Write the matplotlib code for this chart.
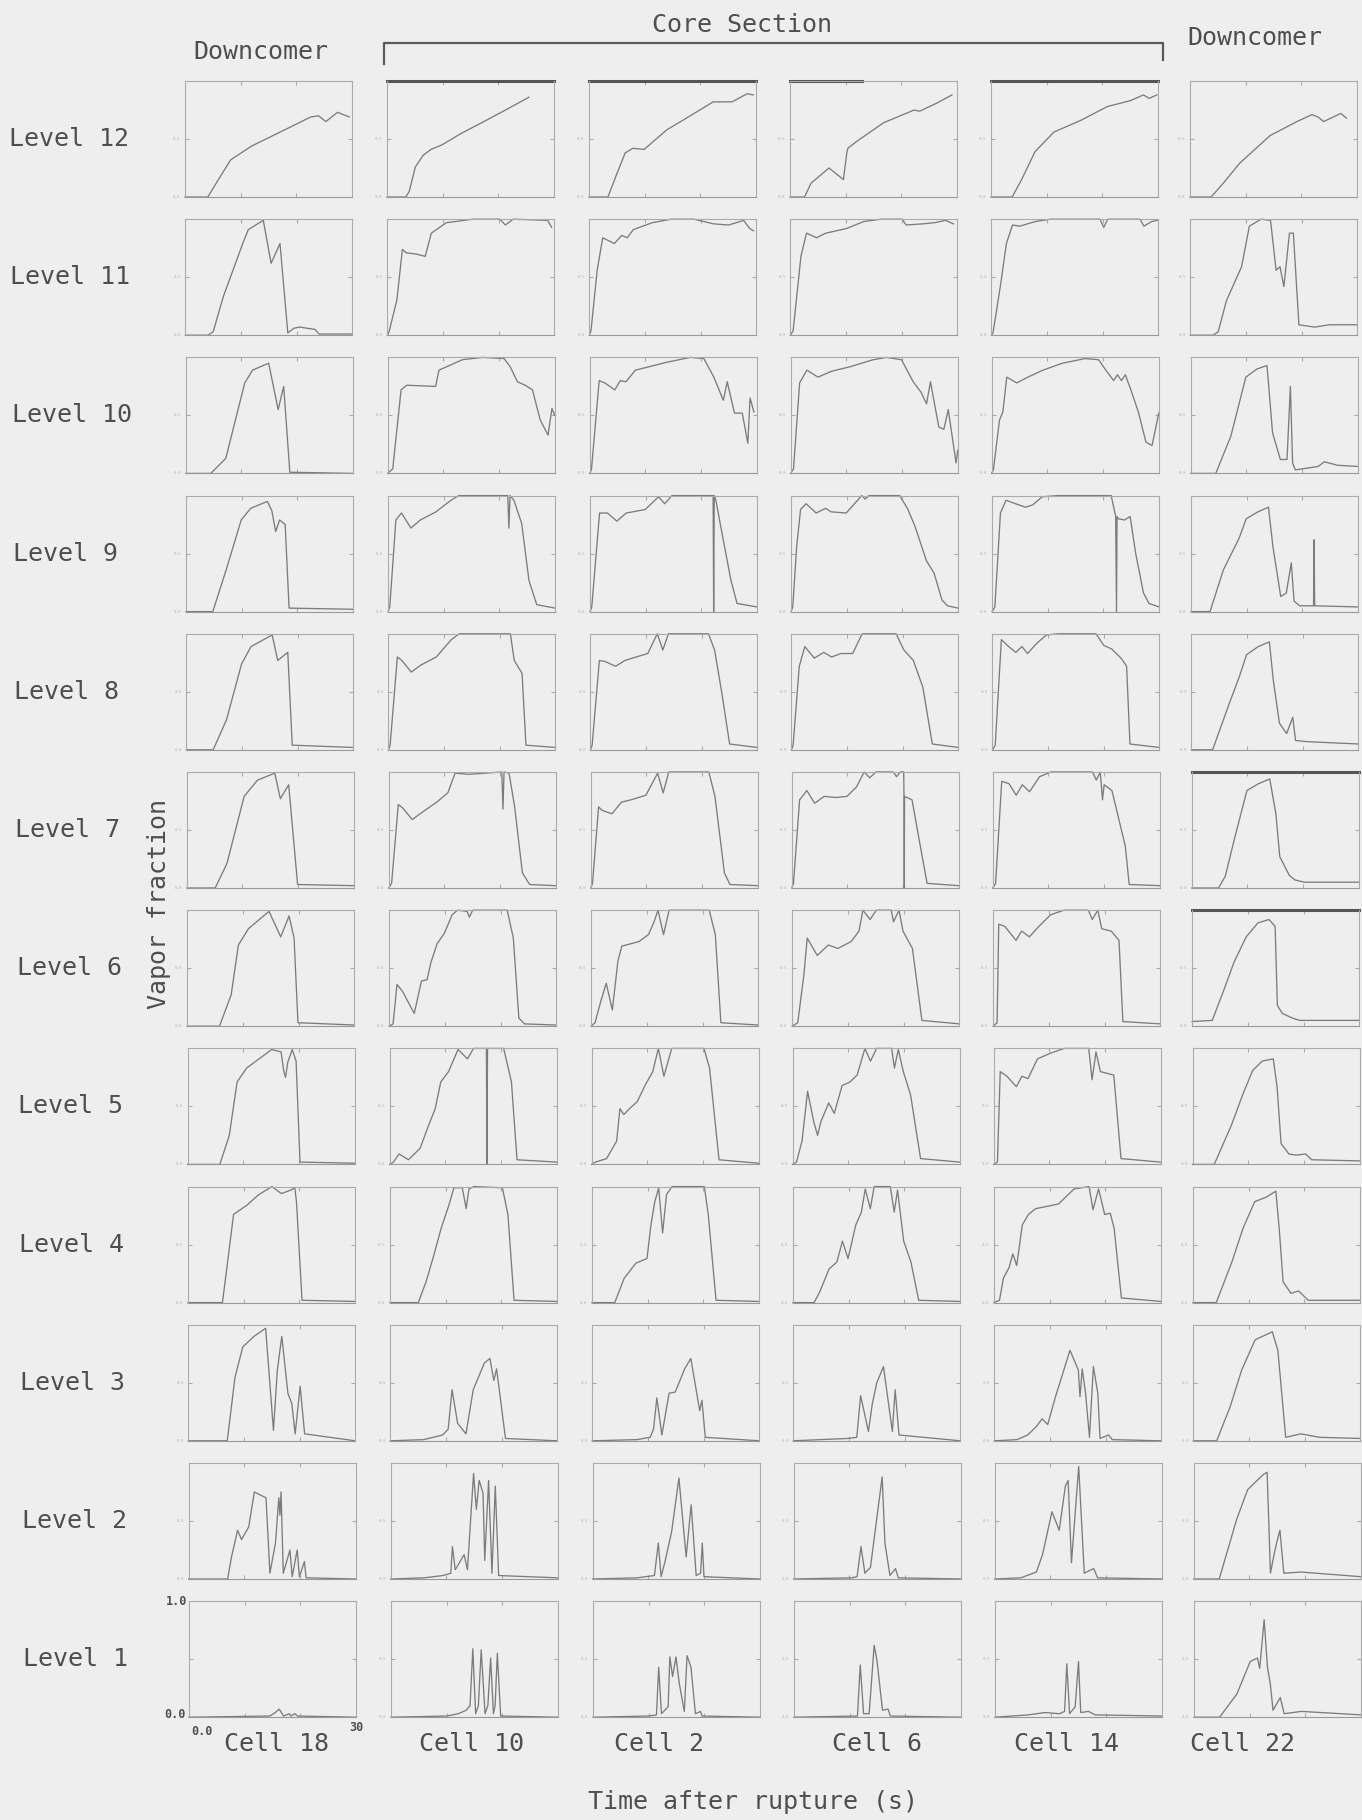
import matplotlib
matplotlib.use("Agg")
import matplotlib.pyplot as plt

# ---------------- data ----------------
LEVELS = [12, 11, 10, 9, 8, 7, 6, 5, 4, 3, 2, 1]
CELL_LABELS = ["Cell 18", "Cell 10", "Cell 2", "Cell 6", "Cell 14", "Cell 22"]
TIME_TICKS = [0, 10, 20, 30]
VF_TICKS = [0.0, 0.5, 1.0]

CELL18 = {
    12: ([0, 4.1, 6, 8.2, 12, 17.1, 22.6, 24, 25.3, 27.4, 29.5],
         [0, 0, 0.15, 0.32, 0.44, 0.56, 0.69, 0.70, 0.65, 0.73, 0.69]),
    11: ([0, 4.1, 5, 6.8, 10.3, 11.3, 14, 15.4, 17, 18.4, 19.5, 20.5, 23.3, 24, 30],
         [0, 0, 0.03, 0.33, 0.79, 0.91, 0.99, 0.62, 0.79, 0.02, 0.06, 0.07, 0.05, 0.01, 0.01]),
    10: ([0, 4.5, 7.2, 10.6, 12, 14.9, 16.6, 17.6, 18.7, 30],
         [0, 0, 0.13, 0.78, 0.89, 0.95, 0.55, 0.75, 0.01, 0]),
    9: ([0, 4.8, 7.2, 9.9, 11.6, 14.6, 15.4, 16.1, 16.8, 17.8, 18.5, 30],
        [0, 0, 0.36, 0.79, 0.89, 0.95, 0.87, 0.69, 0.79, 0.75, 0.03, 0.02]),
    8: ([0, 4.8, 7.2, 9.9, 11.6, 15.4, 16.4, 18.2, 19, 30],
        [0, 0, 0.26, 0.74, 0.89, 0.99, 0.77, 0.84, 0.04, 0.02]),
    7: ([0, 5.1, 7.2, 10.3, 12.7, 15.8, 16.8, 18.3, 19.9, 30],
        [0, 0, 0.21, 0.79, 0.93, 0.99, 0.77, 0.89, 0.03, 0.02]),
    6: ([0, 5.8, 7.9, 9.2, 11, 14.7, 16.8, 18.3, 19.2, 19.9, 30],
        [0, 0, 0.27, 0.7, 0.84, 0.99, 0.77, 0.95, 0.76, 0.03, 0.01]),
    5: ([0, 5.8, 7.5, 8.9, 10.6, 15.1, 16.8, 17.3, 17.6, 18, 18.8, 19.5, 20.2, 30],
        [0, 0, 0.25, 0.71, 0.83, 0.99, 0.97, 0.8, 0.75, 0.88, 0.99, 0.89, 0.02, 0.01]),
    4: ([0, 6.2, 7, 8.2, 10.6, 12.7, 15.1, 16.8, 18.5, 19.2, 19.5, 20.5, 30],
        [0, 0, 0.3, 0.76, 0.84, 0.93, 1.0, 0.94, 0.97, 0.99, 0.87, 0.02, 0.01]),
    3: ([0, 7, 8.4, 9.8, 11.8, 13.9, 15.3, 16, 16.8, 17.9, 18.6, 19.2, 20.1, 20.9, 30],
        [0, 0, 0.55, 0.81, 0.9, 0.97, 0.09, 0.61, 0.9, 0.41, 0.32, 0.06, 0.47, 0.06, 0]),
    2: ([0, 7, 7.7, 8.8, 9.5, 10.8, 11.8, 13.9, 14.6, 15.6, 16.2, 16.4, 16.6, 17, 18.2, 18.6, 19.5, 19.9, 20.8, 21.1, 30],
        [0, 0, 0.19, 0.42, 0.34, 0.45, 0.75, 0.7, 0.05, 0.31, 0.7, 0.55, 0.75, 0.05, 0.25, 0.02, 0.25, 0.02, 0.15, 0.01, 0]),
    1: ([0, 14.5, 15.5, 16.2, 17, 18, 18.3, 19, 19.5, 30],
        [0, 0.01, 0.04, 0.07, 0.01, 0.03, 0.01, 0.03, 0.01, 0]),
}

CELL10 = {
    12: ([0, 3.4, 4, 5.1, 6.5, 7.9, 9.9, 13.4, 17, 20.9, 25.5],
         [0, 0, 0.05, 0.26, 0.36, 0.41, 0.45, 0.55, 0.64, 0.74, 0.86]),
    11: ([0, 0.3, 1.7, 2.7, 3.4, 5.1, 6.8, 7.9, 10.6, 15.4, 20.2, 21.2, 22.6, 28.8, 29.5],
         [0, 0.03, 0.3, 0.74, 0.71, 0.7, 0.68, 0.88, 0.97, 1.0, 1.0, 0.95, 1.0, 0.99, 0.93]),
    10: ([0, 0.9, 2.4, 3.4, 8.6, 9.2, 13.4, 17, 20.9, 22, 23.3, 24.7, 26, 27.4, 28.8, 29.5, 30],
         [0, 0.04, 0.72, 0.76, 0.75, 0.89, 0.98, 1.0, 0.99, 0.92, 0.79, 0.76, 0.72, 0.46, 0.33, 0.56, 0.5]),
    9: ([0, 0.3, 1.4, 2.4, 4.1, 5.8, 8.6, 11.3, 12.7, 21.5, 21.7, 21.9, 22.6, 24, 25.3, 26.7, 30],
        [0, 0.04, 0.79, 0.85, 0.72, 0.79, 0.86, 0.96, 1.0, 1.0, 0.72, 1.0, 0.96, 0.76, 0.27, 0.06, 0.03]),
    8: ([0, 0.3, 1.6, 2.4, 4.1, 5.8, 8.6, 11.3, 12.7, 21.9, 22.6, 24, 24.7, 30],
        [0, 0.04, 0.8, 0.77, 0.67, 0.73, 0.8, 0.95, 1.0, 1.0, 0.77, 0.66, 0.04, 0.02]),
    7: ([0, 0.5, 1.7, 2.5, 4.2, 6.2, 8.6, 10.6, 11.9, 14.4, 20.3, 20.5, 20.7, 21.6, 22.6, 24, 25.3, 30],
        [0, 0.04, 0.72, 0.69, 0.59, 0.66, 0.74, 0.82, 0.99, 0.98, 1.0, 0.68, 1.0, 0.99, 0.7, 0.13, 0.03, 0.02]),
    6: ([0, 0.7, 1.4, 2.4, 4.5, 5.8, 6.8, 7.5, 8.6, 9.9, 11.3, 12.3, 14, 14.4, 15, 21.2, 22.3, 23.3, 24.3, 30],
        [0, 0.02, 0.36, 0.3, 0.11, 0.39, 0.4, 0.55, 0.71, 0.8, 0.96, 1.0, 0.99, 0.94, 1.0, 1.0, 0.76, 0.07, 0.02, 0.01]),
    5: ([0, 0.7, 1.7, 3.4, 5.5, 6.8, 8.2, 9.2, 10.6, 12.3, 14, 15.1, 17.4, 17.5, 17.6, 20.5, 21.9, 22.9, 30],
        [0, 0.02, 0.09, 0.04, 0.14, 0.31, 0.48, 0.71, 0.8, 0.99, 0.91, 1.0, 1.0, 0.0, 1.0, 1.0, 0.71, 0.04, 0.02]),
    4: ([0, 5.1, 6.5, 7.9, 9.2, 10.6, 11.5, 13, 13.7, 14.2, 15.1, 20.2, 21.2, 22.3, 30],
        [0, 0, 0.18, 0.41, 0.64, 0.84, 0.99, 0.99, 0.81, 0.98, 1.0, 0.99, 0.76, 0.02, 0.01]),
    3: ([0, 6, 9.4, 10.4, 11.1, 12.1, 13.6, 14.9, 16.9, 17.9, 18.6, 19.1, 20.7, 30],
        [0, 0.01, 0.05, 0.1, 0.44, 0.15, 0.06, 0.44, 0.67, 0.71, 0.52, 0.62, 0.02, 0]),
    2: ([0, 6, 9.4, 10.8, 11.1, 11.6, 13.2, 13.8, 14.9, 15.4, 15.9, 16.6, 16.9, 17.6, 18.2, 18.8, 19.4, 30],
        [0, 0.01, 0.03, 0.05, 0.28, 0.08, 0.21, 0.08, 0.91, 0.6, 0.85, 0.74, 0.16, 0.85, 0.05, 0.8, 0.03, 0.01]),
    1: ([0, 10, 12.1, 13.5, 14.2, 14.7, 15.2, 15.7, 16.2, 16.9, 17.4, 17.9, 18.4, 18.7, 19.1, 19.7, 30],
        [0, 0.01, 0.03, 0.06, 0.1, 0.59, 0.03, 0.1, 0.58, 0.03, 0.1, 0.51, 0.03, 0.1, 0.55, 0.01, 0]),
}

CELL2 = {
    12: ([0, 3.4, 5, 6.5, 7.9, 9.9, 14, 17.5, 22.3, 25.7, 28.4, 29.5],
         [0, 0, 0.2, 0.38, 0.42, 0.41, 0.58, 0.68, 0.82, 0.82, 0.89, 0.88]),
    11: ([0, 0.3, 1.4, 2.4, 4.5, 5.8, 6.8, 7.9, 11.3, 14.7, 18.8, 22.3, 25, 26.4, 27.7, 28.8, 29.5],
         [0, 0.04, 0.56, 0.84, 0.79, 0.86, 0.84, 0.91, 0.97, 1.0, 1.0, 0.96, 0.95, 0.97, 0.99, 0.92, 0.9]),
    10: ([0, 0.3, 1.7, 2.7, 4.5, 5.5, 6.5, 8.2, 14, 18.1, 20.5, 22.3, 24, 24.7, 26, 27.4, 28.4, 28.8, 29.5],
         [0, 0.03, 0.8, 0.78, 0.72, 0.8, 0.79, 0.89, 0.96, 1.0, 0.99, 0.83, 0.63, 0.79, 0.52, 0.52, 0.26, 0.65, 0.53]),
    9: ([0, 0.3, 1.7, 3.1, 4.8, 6.5, 9.9, 12.3, 13.4, 14.7, 22.1, 22.2, 22.3, 22.6, 23.6, 25.3, 26.4, 30],
        [0, 0.04, 0.85, 0.85, 0.78, 0.85, 0.88, 0.99, 0.93, 1.0, 1.0, 0.0, 1.0, 0.96, 0.7, 0.27, 0.07, 0.04]),
    8: ([0, 0.3, 1.6, 2.7, 4.5, 6.2, 8.2, 10.3, 12, 13, 14, 21.2, 22.3, 23.6, 25, 30],
        [0, 0.04, 0.77, 0.76, 0.72, 0.77, 0.8, 0.83, 1.0, 0.86, 1.0, 1.0, 0.86, 0.49, 0.05, 0.02]),
    7: ([0, 0.3, 1.4, 2, 3.8, 5.5, 7.2, 9.9, 12, 13, 14, 21.2, 22.3, 24, 25, 30],
        [0, 0.04, 0.7, 0.67, 0.64, 0.74, 0.76, 0.8, 0.99, 0.82, 1.0, 1.0, 0.79, 0.13, 0.03, 0.02]),
    6: ([0, 0.7, 1.7, 2.7, 3.8, 4.8, 5.5, 8.6, 10.3, 11.3, 12, 13, 14, 21.2, 22.3, 23.3, 30],
        [0, 0.03, 0.21, 0.37, 0.14, 0.56, 0.69, 0.73, 0.79, 0.9, 1.0, 0.79, 1.0, 1.0, 0.79, 0.03, 0.01]),
    5: ([0, 0.7, 2.7, 4.5, 5.1, 5.8, 6.8, 8.2, 9.6, 11, 12, 13, 14.4, 20.2, 21.2, 22.9, 30],
        [0, 0.02, 0.05, 0.2, 0.48, 0.43, 0.48, 0.54, 0.68, 0.8, 1.0, 0.76, 1.0, 1.0, 0.83, 0.04, 0.01]),
    4: ([0, 4.1, 5.8, 7.9, 9.9, 10.6, 11.3, 12, 12.7, 13.4, 14.4, 20.2, 20.9, 22.3, 30],
        [0, 0, 0.21, 0.34, 0.38, 0.67, 0.87, 0.99, 0.6, 0.93, 1.0, 1.0, 0.76, 0.02, 0.01]),
    3: ([0, 8, 10.4, 11, 11.6, 12.5, 13.8, 14.9, 16.6, 17.7, 19.3, 19.7, 20.3, 30],
        [0, 0.01, 0.03, 0.1, 0.37, 0.05, 0.41, 0.42, 0.62, 0.71, 0.26, 0.35, 0.03, 0]),
    2: ([0, 8, 11.1, 11.8, 12.3, 13, 14.2, 15.5, 16.8, 17.7, 18.6, 19.4, 19.7, 20, 30],
        [0, 0.01, 0.03, 0.31, 0.02, 0.15, 0.41, 0.87, 0.19, 0.64, 0.03, 0.05, 0.31, 0.02, 0]),
    1: ([0, 10, 11.4, 11.8, 12.3, 13.5, 13.8, 14.3, 14.9, 15.5, 16.4, 16.9, 17.6, 18.4, 19.3, 19.6, 30],
        [0, 0.01, 0.02, 0.43, 0.03, 0.09, 0.52, 0.35, 0.52, 0.29, 0.05, 0.53, 0.43, 0.03, 0.05, 0.01, 0]),
}

CELL6 = {
    12: ([0, 2.6, 3.8, 7, 9.6, 10.2, 10.4, 12, 16.8, 22.3, 23.3, 26.4, 29.1],
         [0, 0, 0.12, 0.25, 0.15, 0.38, 0.42, 0.48, 0.64, 0.75, 0.74, 0.81, 0.88]),
    11: ([0, 0.5, 1.9, 2.9, 4.7, 6.4, 10.1, 13.2, 16.3, 20.1, 20.8, 23.8, 25.9, 27.9, 29.3],
         [0, 0.04, 0.68, 0.88, 0.84, 0.88, 0.92, 0.98, 1.0, 1.0, 0.95, 0.96, 0.97, 0.99, 0.96]),
    10: ([0, 0.5, 1.6, 2.9, 4.9, 7.3, 10.7, 14.8, 17.2, 19.9, 22, 23.4, 24.4, 25.1, 26.6, 27.5, 28.3, 29.7, 30],
         [0, 0.04, 0.78, 0.89, 0.83, 0.88, 0.92, 0.98, 1.0, 0.98, 0.79, 0.7, 0.6, 0.79, 0.4, 0.38, 0.55, 0.09, 0.2]),
    9: ([0, 0.3, 1, 1.7, 2.7, 4.5, 6.2, 7.2, 9.9, 12.7, 13.3, 14, 19.5, 20.9, 22.3, 24.3, 25.7, 27.1, 28.1, 30],
        [0, 0.04, 0.56, 0.88, 0.93, 0.85, 0.89, 0.86, 0.85, 1.0, 0.97, 1.0, 1.0, 0.89, 0.73, 0.44, 0.33, 0.1, 0.05, 0.03]),
    8: ([0, 0.3, 1.4, 2.4, 4.1, 5.8, 7.2, 8.9, 11, 12.7, 18.8, 20.2, 21.9, 23.6, 25.3, 30],
        [0, 0.04, 0.72, 0.89, 0.79, 0.84, 0.8, 0.83, 0.83, 1.0, 1.0, 0.86, 0.77, 0.54, 0.05, 0.02]),
    7: ([0, 0.3, 1.4, 2.7, 4.1, 5.8, 7.9, 9.9, 11.6, 13, 14, 15.1, 18.2, 18.8, 19.5, 20.1, 20.15, 20.2, 20.25, 21.6, 22.9, 24.3, 30],
        [0, 0.04, 0.76, 0.84, 0.73, 0.79, 0.78, 0.79, 0.87, 1.0, 0.95, 1.0, 1.0, 0.96, 1.0, 1.0, 0.79, 0.0, 0.79, 0.76, 0.41, 0.04, 0.02]),
    6: ([0, 1, 2.1, 2.7, 4.5, 6.5, 8.2, 10.6, 12, 12.7, 14, 15.1, 17.8, 18.2, 19.2, 19.9, 21.6, 23.3, 30],
        [0, 0.03, 0.44, 0.76, 0.61, 0.7, 0.67, 0.73, 0.82, 1.0, 0.92, 1.0, 1.0, 0.9, 1.0, 0.82, 0.67, 0.05, 0.02]),
    5: ([0, 0.7, 1.7, 2.7, 3.8, 4.5, 5.1, 6.5, 7.5, 8.9, 10.3, 11.6, 13, 14, 15.1, 17.8, 18.3, 19, 19.9, 21.2, 23, 30],
        [0, 0.02, 0.2, 0.63, 0.37, 0.25, 0.37, 0.53, 0.44, 0.68, 0.71, 0.77, 1.0, 0.89, 1.0, 1.0, 0.83, 0.99, 0.8, 0.6, 0.05, 0.02]),
    4: ([0, 3.8, 4.8, 6.5, 7.9, 8.9, 9.9, 11.3, 12.3, 13, 13.9, 14.6, 17.5, 18.2, 18.8, 19.9, 21.2, 22.6, 30],
        [0, 0, 0.09, 0.29, 0.35, 0.53, 0.38, 0.67, 0.78, 0.98, 0.81, 1.0, 1.0, 0.78, 0.97, 0.53, 0.35, 0.02, 0.01]),
    3: ([0, 9.7, 11.4, 12.1, 13.5, 14.2, 15, 16.2, 17.8, 18.3, 19, 30],
        [0, 0.02, 0.03, 0.39, 0.08, 0.32, 0.5, 0.64, 0.08, 0.44, 0.05, 0]),
    2: ([0, 10.4, 11.4, 12.1, 12.8, 13.8, 14.5, 15.9, 16.4, 17.3, 18.3, 18.8, 30],
        [0, 0.01, 0.02, 0.28, 0.05, 0.1, 0.36, 0.88, 0.31, 0.03, 0.09, 0.01, 0]),
    1: ([0, 11.4, 11.9, 12.5, 13.5, 14.4, 14.9, 15.9, 16.9, 17.3, 30],
        [0, 0.01, 0.45, 0.03, 0.03, 0.62, 0.49, 0.06, 0.07, 0.01, 0]),
}

CELL14 = {
    12: ([0, 3.8, 5.5, 7.9, 11.3, 16.1, 20.9, 25, 27.4, 28.4, 29.8],
         [0, 0, 0.15, 0.39, 0.56, 0.66, 0.78, 0.83, 0.88, 0.85, 0.88]),
    11: ([0, 0.3, 1.7, 2.7, 3.8, 5.1, 7.9, 10.6, 19.5, 20.2, 20.9, 26.7, 27.4, 28.8, 29.8],
         [0, 0.02, 0.45, 0.79, 0.95, 0.94, 0.98, 1.0, 1.0, 0.93, 1.0, 1.0, 0.94, 0.98, 0.99]),
    10: ([0, 0.3, 1.4, 2, 2.7, 4.5, 6.5, 9.2, 12.7, 16.8, 19.2, 20.5, 21.9, 22.6, 23.3, 24, 25, 26.4, 27.7, 28.8, 29.5, 30],
         [0, 0.03, 0.46, 0.53, 0.83, 0.78, 0.83, 0.89, 0.95, 0.99, 0.98, 0.89, 0.8, 0.85, 0.8, 0.85, 0.72, 0.52, 0.27, 0.24, 0.4, 0.52]),
    9: ([0, 0.5, 1.5, 2.5, 4.2, 6, 7.3, 9, 11.8, 21.4, 22.2, 22.35, 22.45, 22.7, 23.8, 24.8, 25.8, 27.2, 28.2, 30],
        [0, 0.04, 0.85, 0.96, 0.93, 0.9, 0.92, 0.99, 1.0, 1.0, 0.82, 0.0, 0.82, 0.8, 0.79, 0.82, 0.5, 0.16, 0.07, 0.04]),
    8: ([0, 0.5, 1.6, 2.9, 4.2, 5.3, 6.3, 8, 9.7, 11.8, 18.6, 20, 21.4, 23.1, 24.1, 24.7, 30],
        [0, 0.04, 0.95, 0.89, 0.84, 0.89, 0.83, 0.92, 0.99, 1.0, 1.0, 0.9, 0.87, 0.79, 0.72, 0.05, 0.02]),
    7: ([0, 0.5, 1.6, 2.9, 4.2, 5.3, 6.6, 8.4, 10.4, 17.9, 18.6, 19.3, 19.7, 20, 21.4, 22.4, 23.8, 24.5, 30],
        [0, 0.04, 0.92, 0.9, 0.8, 0.89, 0.83, 0.96, 1.0, 1.0, 0.93, 1.0, 0.76, 0.89, 0.84, 0.64, 0.36, 0.03, 0.02]),
    6: ([0, 0.7, 1, 2.1, 4.1, 5.1, 6.5, 8.2, 10.3, 12.7, 17.1, 17.8, 18.8, 19.5, 21.2, 22.6, 23.3, 30],
        [0, 0.03, 0.88, 0.86, 0.74, 0.82, 0.77, 0.86, 0.96, 1.0, 1.0, 0.92, 1.0, 0.84, 0.82, 0.74, 0.04, 0.02]),
    5: ([0, 0.7, 1.2, 2.4, 4.1, 5.1, 6.2, 7.9, 10.3, 12.7, 17.1, 17.7, 18.4, 19.2, 21.6, 22.9, 30],
        [0, 0.02, 0.8, 0.76, 0.67, 0.76, 0.74, 0.91, 0.96, 1.0, 1.0, 0.73, 0.97, 0.8, 0.77, 0.05, 0.02]),
    4: ([0, 1, 1.7, 2.7, 3.4, 4.1, 5.1, 6.2, 7.5, 9.6, 11.6, 14.4, 17.1, 17.8, 18.8, 19.9, 20.9, 21.6, 22.9, 30],
        [0, 0.02, 0.21, 0.3, 0.42, 0.32, 0.67, 0.76, 0.81, 0.83, 0.85, 0.98, 1.0, 0.8, 0.98, 0.76, 0.77, 0.64, 0.04, 0.01]),
    3: ([0, 4.1, 6, 7.5, 8.6, 9.6, 11, 13.6, 15.1, 15.4, 15.8, 16.4, 17.1, 17.8, 18.6, 19, 20.5, 21.2, 30],
        [0, 0.01, 0.05, 0.12, 0.19, 0.14, 0.38, 0.78, 0.61, 0.38, 0.62, 0.41, 0.03, 0.64, 0.41, 0.02, 0.05, 0.01, 0]),
    2: ([0, 4.7, 7.5, 8.6, 10.3, 11.6, 12.7, 13.2, 13.8, 15.1, 16.1, 17.8, 18.5, 30],
        [0, 0.01, 0.06, 0.21, 0.58, 0.42, 0.8, 0.85, 0.14, 0.97, 0.05, 0.09, 0.01, 0]),
    1: ([0, 6, 9, 11.6, 12.5, 12.9, 13.4, 14.4, 15, 15.4, 16.8, 18, 30],
        [0, 0.02, 0.04, 0.03, 0.05, 0.46, 0.03, 0.09, 0.48, 0.04, 0.05, 0.02, 0.01]),
}

CELL22 = {
    12: ([0, 3.8, 6, 8.9, 14.4, 19.2, 21.9, 23, 24, 25.3, 27.1, 28.1],
         [0, 0, 0.12, 0.29, 0.53, 0.65, 0.71, 0.69, 0.65, 0.68, 0.72, 0.68]),
    11: ([0, 4.1, 5, 6.5, 9.2, 10.6, 12.7, 14.4, 15.4, 16.1, 16.8, 17.8, 18.5, 19.5, 22.3, 25, 30],
         [0, 0, 0.03, 0.3, 0.59, 0.94, 1.0, 0.99, 0.56, 0.59, 0.42, 0.88, 0.88, 0.09, 0.07, 0.09, 0.09]),
    10: ([0, 4.5, 7.2, 9.9, 11.9, 13.7, 14.7, 16.1, 17.3, 17.9, 18.3, 18.8, 22.9, 24, 26.4, 30],
         [0, 0, 0.32, 0.83, 0.9, 0.93, 0.35, 0.12, 0.12, 0.75, 0.09, 0.03, 0.06, 0.1, 0.07, 0.06]),
    9: ([0, 3.4, 5.8, 8.6, 9.9, 12, 13.9, 14.7, 16.1, 17.1, 18, 18.5, 19.5, 22, 22.1, 22.2, 30],
        [0, 0, 0.36, 0.63, 0.8, 0.86, 0.9, 0.56, 0.13, 0.16, 0.42, 0.09, 0.05, 0.05, 0.62, 0.05, 0.04]),
    8: ([0, 3.8, 6.8, 8.6, 9.9, 12, 14, 14.7, 15.8, 17.1, 18.2, 18.7, 20.9, 30],
        [0, 0, 0.4, 0.63, 0.82, 0.89, 0.93, 0.6, 0.23, 0.14, 0.28, 0.08, 0.07, 0.05]),
    7: ([0, 4.8, 6, 7.9, 9.9, 12, 14, 15.1, 15.8, 17.5, 18.5, 20.2, 30],
        [0, 0, 0.1, 0.47, 0.84, 0.9, 0.94, 0.64, 0.27, 0.11, 0.07, 0.05, 0.05]),
    6: ([0, 3.6, 5.6, 7.5, 9.7, 11.8, 13.8, 14.9, 15.3, 16.2, 18, 19.3, 30],
        [0.04, 0.05, 0.3, 0.55, 0.77, 0.89, 0.92, 0.86, 0.18, 0.11, 0.07, 0.05, 0.05]),
    5: ([0, 3.9, 7, 9, 10.8, 12.5, 14.5, 15.2, 15.9, 17.3, 18.6, 20.3, 21.4, 30],
        [0, 0, 0.34, 0.6, 0.81, 0.89, 0.91, 0.66, 0.18, 0.09, 0.08, 0.09, 0.04, 0.03]),
    4: ([0, 4.2, 7, 9, 11.1, 13.2, 14.9, 15.5, 16.2, 17.6, 19, 20.7, 30],
        [0, 0, 0.35, 0.64, 0.87, 0.91, 0.96, 0.64, 0.18, 0.08, 0.1, 0.02, 0.02]),
    3: ([0, 4.2, 6.6, 8.7, 11.1, 14.2, 15.2, 16.6, 19.3, 22.7, 30],
        [0, 0, 0.29, 0.61, 0.87, 0.94, 0.78, 0.03, 0.06, 0.03, 0.02]),
    2: ([0, 4.6, 7.7, 9.7, 12.5, 13.2, 13.8, 14.4, 14.9, 15.5, 16.2, 19.3, 30],
        [0, 0, 0.51, 0.77, 0.9, 0.92, 0.05, 0.2, 0.31, 0.42, 0.05, 0.06, 0.02]),
    1: ([0, 4.6, 7.7, 10.1, 11.4, 11.8, 12.6, 13.2, 13.7, 14.2, 15.5, 16.2, 19.3, 30],
        [0, 0, 0.2, 0.48, 0.51, 0.42, 0.84, 0.43, 0.29, 0.06, 0.17, 0.03, 0.05, 0.02]),
}

COLUMNS = [CELL18, CELL10, CELL2, CELL6, CELL14, CELL22]

# ---------------- layout / style ----------------
W, H = 1362, 1820
BG = "#eeeeee"
INK = "#4e4e4e"
FRAME = "#ababab"
CURVE = "#7c7c7c"
FONT = "DejaVu Sans Mono"

COL_LEFT = [185, 387, 589, 790, 991, 1190]
PANEL_W = 167
ROW_TOP0 = 81
ROW_PITCH = 138.2
PANEL_H = 116
SKEW = 4.0  # px drift to the right from top row to bottom row

# panels whose top border is a heavy line: (col, level, xmax fraction)
HEAVY_TOP = [(1, 12, 1.0), (2, 12, 1.0), (3, 12, 0.43), (4, 12, 1.0),
             (5, 7, 1.0), (5, 6, 1.0)]

fig = plt.figure(figsize=(W / 100, H / 100), dpi=100)
fig.patch.set_facecolor(BG)


def fx(px):
    return px / W


def fy(py):
    return 1 - py / H


for ri, lev in enumerate(LEVELS):
    top = ROW_TOP0 + ROW_PITCH * ri
    shift = SKEW * ri / (len(LEVELS) - 1)
    for ci, col in enumerate(COLUMNS):
        left = COL_LEFT[ci] + shift
        ax = fig.add_axes([fx(left), fy(top + PANEL_H), PANEL_W / W, PANEL_H / H])
        ax.set_facecolor(BG)
        t, v = col[lev]
        ax.plot(t, v, color=CURVE, lw=0.95, clip_on=False, solid_joinstyle="round")
        ax.set_xlim(TIME_TICKS[0], TIME_TICKS[-1])
        ax.set_ylim(VF_TICKS[0], VF_TICKS[-1])
        for s in ax.spines.values():
            s.set_color(FRAME)
            s.set_linewidth(0.8)
        ax.spines["bottom"].set_color("#999999")
        ax.set_xticks(TIME_TICKS[1:-1])
        ax.set_yticks([VF_TICKS[1]])
        ax.tick_params(direction="in", length=3, width=0.8, color=FRAME,
                       top=True, right=True, labelbottom=False, labelleft=False)
        is_corner = (ri == len(LEVELS) - 1 and ci == 0)
        # faint tiny tick labels of the scanned original
        if not is_corner:
            for yv in VF_TICKS[:2]:
                ax.text(-0.8, yv, f"{yv:.1f}", fontsize=3, color="#b5b5b5",
                        ha="right", va="center", family=FONT)
        for (hc, hl, xm) in HEAVY_TOP:
            if hc == ci and hl == lev:
                ax.spines["top"].set_visible(xm < 1.0)
                ax.axhline(1.0, 0, xm, color="#555555", lw=2.2, clip_on=False)
        if is_corner:
            ax.text(-0.4, 1.0, "1.0", fontsize=8.5, color=INK, ha="right",
                    va="center", family=FONT, weight="bold")
            ax.text(-0.6, 0.02, "0.0", fontsize=8.5, color=INK, ha="right",
                    va="center", family=FONT, weight="bold")
            ax.text(0.4, -0.07, "0.0", fontsize=8.5, color=INK, ha="left",
                    va="top", family=FONT, weight="bold")
            ax.text(30.0, -0.03, "30", fontsize=8.5, color=INK, ha="center",
                    va="top", family=FONT, weight="bold")
    # row label
    fig.text(fx(9 + 1.27 * ri), fy(top + PANEL_H / 2), f"Level {lev}",
             fontsize=18, color=INK, family=FONT, ha="left", va="center")

# column labels under bottom row
CELL_X = [276, 471, 659, 877, 1066, 1242]
for cx, lab in zip(CELL_X, CELL_LABELS):
    fig.text(fx(cx), fy(1744), lab, fontsize=18, color=INK, family=FONT,
             ha="center", va="center")

# headers
fig.text(fx(261), fy(52), "Downcomer", fontsize=18, color=INK, family=FONT,
         ha="center", va="center")
fig.text(fx(1255), fy(38), "Downcomer", fontsize=18, color=INK, family=FONT,
         ha="center", va="center")
fig.text(fx(742), fy(25), "Core Section", fontsize=18, color=INK, family=FONT,
         ha="center", va="center")
fig.add_artist(plt.Line2D([fx(384), fx(384), fx(1163), fx(1163)],
                          [fy(64), fy(43), fy(43), fy(60)],
                          color="#5a5a5a", lw=1.6, transform=fig.transFigure))

fig.text(fx(159), fy(904), "Vapor fraction", fontsize=18, color=INK,
         family=FONT, ha="center", va="center", rotation=90)
fig.text(fx(753), fy(1802), "Time after rupture (s)", fontsize=18, color=INK,
         family=FONT, ha="center", va="center")

fig.savefig("out.png", dpi=100, facecolor=BG)
